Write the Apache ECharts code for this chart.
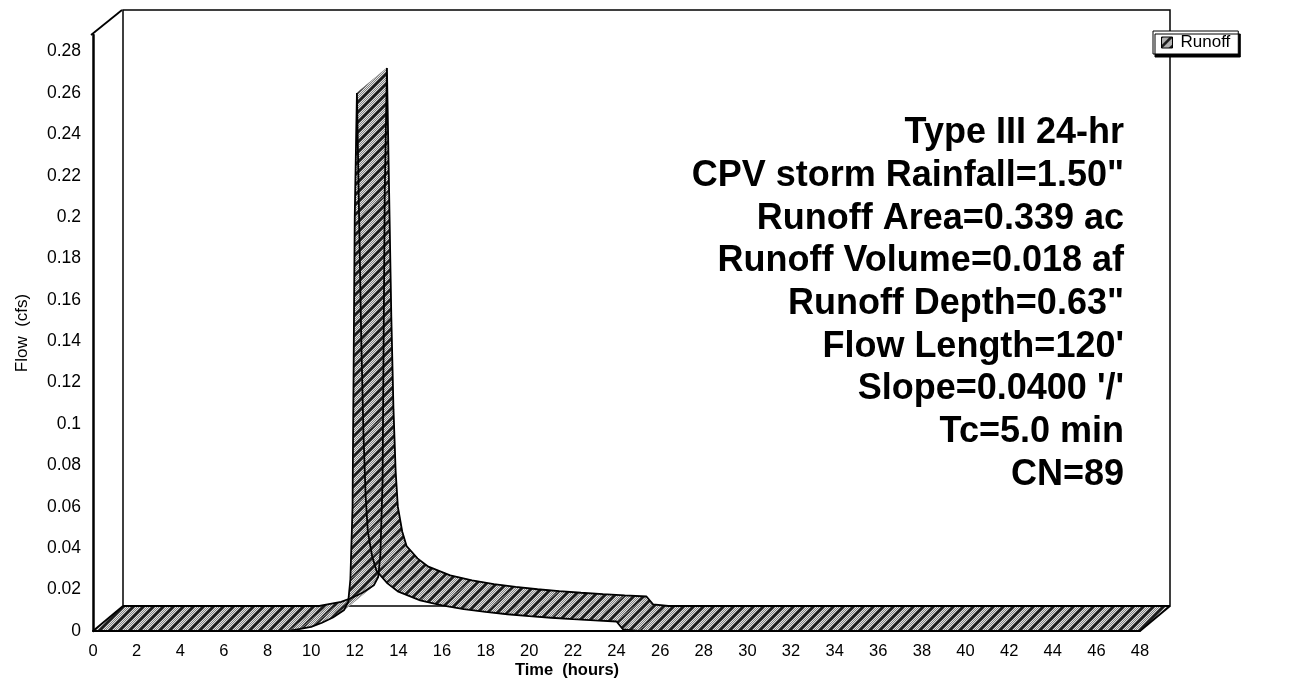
<!DOCTYPE html>
<html><head><meta charset="utf-8">
<script src="https://cdn.jsdelivr.net/npm/echarts@6/dist/echarts.min.js"></script>
<style>html,body{margin:0;padding:0;background:#fff}#c{width:1291px;height:681px}</style>
</head><body><div id="c"></div>
<script>
// ---- data ----
const hours  = [0, 9, 9.5, 10, 10.5, 11, 11.5, 11.7, 11.8, 11.9, 12.0, 12.1, 12.2, 12.3, 12.4, 12.5, 12.6, 12.8, 13.0, 13.5, 14, 15, 16, 17, 18, 19, 20, 21, 22, 23, 24, 24.3, 25, 48];
const runoff = [0, 0, 0.001, 0.002, 0.004, 0.0065, 0.010, 0.014, 0.025, 0.06, 0.20, 0.26, 0.20, 0.14, 0.095, 0.065, 0.048, 0.036, 0.029, 0.023, 0.019, 0.0148, 0.0124, 0.0106, 0.0092, 0.0081, 0.0072, 0.0064, 0.0057, 0.0051, 0.0046, 0.0008, 0, 0];
const xTickLabels = [0,2,4,6,8,10,12,14,16,18,20,22,24,26,28,30,32,34,36,38,40,42,44,46,48];
const yTickLabels = [0,0.02,0.04,0.06,0.08,0.1,0.12,0.14,0.16,0.18,0.2,0.22,0.24,0.26,0.28];
const infoLines = ['Type III 24-hr', 'CPV storm Rainfall=1.50"', 'Runoff Area=0.339 ac', 'Runoff Volume=0.018 af', 'Runoff Depth=0.63"', "Flow Length=120'", "Slope=0.0400 '/'", 'Tc=5.0 min', 'CN=89'];
const seriesName = 'Runoff';
const yMax = 0.288;

// ---- layout ----
const GL = 93, GT = 35, GW = 1047, GH = 596;   // front plane
const DX = 30, DY = -25;                       // depth offset
const FONT = '"Liberation Sans", Arial, sans-serif';

function makeHatch(){
  const n = 10;
  const c = document.createElement('canvas'); c.width = c.height = n;
  const g = c.getContext('2d');
  for (let y = 0; y < n; y++) for (let x = 0; x < n; x++) {
    g.fillStyle = ((x + y) % 2) ? '#808080' : '#e2e2e2';
    g.fillRect(x, y, 1, 1);
  }
  g.strokeStyle = '#1a1a1a'; g.lineWidth = 2.6;
  g.beginPath();
  g.moveTo(-2, n + 2); g.lineTo(n + 2, -2);
  g.moveTo(-2, 2); g.lineTo(2, -2);
  g.moveTo(n - 2, n + 2); g.lineTo(n + 2, n - 2);
  g.stroke();
  return c;
}
const hatch = makeHatch();
const hatchFill = { image: hatch, repeat: 'repeat' };

const segs = hours.slice(0, -1).map((t, i) => [t, runoff[i], hours[i + 1], runoff[i + 1]]);
let peakIdx = 0; runoff.forEach((v, i) => { if (v > runoff[peakIdx]) peakIdx = i; });

const chart = echarts.init(document.getElementById('c'), null, { renderer: 'canvas' });

const axisCommon = {
  type: 'value', splitLine: { show: false }, axisTick: { show: false }
};
const isTick = (arr, v) => arr.some(a => Math.abs(a - v) < 1e-9);

chart.setOption({
  animation: false,
  backgroundColor: '#fff',
  grid: [
    { left: GL, top: GT, width: GW, height: GH, containLabel: false, outerBoundsMode: 'none' },
    { left: GL + DX, top: GT + DY, width: GW, height: GH, containLabel: false, outerBoundsMode: 'none',
      show: true, borderColor: '#000', borderWidth: 1.5, backgroundColor: 'transparent', z: 0 }
  ],
  xAxis: [
    Object.assign({}, axisCommon, {
      gridIndex: 0, min: xTickLabels[0], max: xTickLabels[xTickLabels.length - 1], interval: 2,
      axisLine: { show: true, onZero: false, lineStyle: { color: '#000', width: 2 } },
      axisLabel: { show: true, margin: 12, fontSize: 16.5, color: '#000', fontFamily: FONT,
        formatter: v => isTick(xTickLabels, v) ? String(v) : '' }
    }),
    Object.assign({}, axisCommon, {
      gridIndex: 1, min: xTickLabels[0], max: xTickLabels[xTickLabels.length - 1], interval: 2,
      axisLine: { show: false }, axisLabel: { show: false }
    })
  ],
  yAxis: [
    Object.assign({}, axisCommon, {
      gridIndex: 0, min: 0, max: yMax, interval: 0.02,
      name: 'Flow  (cfs)', nameLocation: 'middle', nameGap: 62, nameRotate: 90,
      nameTextStyle: { fontSize: 17, color: '#000', fontFamily: FONT },
      axisLine: { show: true, onZero: false, lineStyle: { color: '#000', width: 2.5 } },
      axisLabel: { show: true, margin: 12, fontSize: 17.5, color: '#000', fontFamily: FONT, showMaxLabel: false,
        formatter: v => isTick(yTickLabels, v) ? String(+v.toFixed(2)) : '' }
    }),
    Object.assign({}, axisCommon, {
      gridIndex: 1, min: 0, max: yMax, interval: 0.02,
      axisLine: { show: false }, axisLabel: { show: false }
    })
  ],
  legend: {
    left: 1153, top: 31, orient: 'horizontal',
    itemWidth: 11, itemHeight: 11, itemGap: 0,
    padding: [3, 8, 3, 8],
    borderColor: '#000', borderWidth: 1, backgroundColor: '#fff',
    shadowColor: '#000', shadowOffsetX: 2, shadowOffsetY: 3, shadowBlur: 0,
    textStyle: { fontSize: 17, color: '#000', fontFamily: FONT, padding: [0, 0, 0, 3] },
    data: [{ name: seriesName, icon: 'rect', itemStyle: { color: hatchFill, borderColor: '#000', borderWidth: 1 } }]
  },
  graphic: [
    { type: 'line', z: 5, shape: { x1: GL - 2, y1: GT, x2: GL + DX - 1, y2: GT + DY }, style: { stroke: '#000', lineWidth: 1.8 } },
    { type: 'text', z: 10, x: 1124, y: 112,
      style: { text: infoLines.join('\n'), font: 'bold 36px ' + FONT, fill: '#000', textAlign: 'right', textVerticalAlign: 'top', lineHeight: 42.7 } },
    { type: 'text', z: 10, x: 567, y: 670,
      style: { text: 'Time  (hours)', font: 'bold 16.5px ' + FONT, fill: '#000', textAlign: 'center', textVerticalAlign: 'middle' } }
  ],
  series: [
    {
      type: 'custom', name: seriesName, coordinateSystem: 'cartesian2d', xAxisIndex: 0, yAxisIndex: 0,
      z: 2, clip: false,
      encode: { x: [0, 2], y: [1, 3] },
      data: segs,
      renderItem: function (params, api) {
        const a = api.coord([api.value(0), api.value(1)]);
        const b = api.coord([api.value(2), api.value(3)]);
        const children = [{
          type: 'polygon',
          shape: { points: [a, b, [b[0] + DX, b[1] + DY], [a[0] + DX, a[1] + DY]] },
          style: { fill: hatchFill, stroke: '#999', lineWidth: 0.6 }
        }];
        if (params.dataIndex === 0) children.push({ type: 'line', shape: { x1: a[0], y1: a[1], x2: a[0] + DX, y2: a[1] + DY }, style: { stroke: '#000', lineWidth: 1.8 } });
        if (params.dataIndex === segs.length - 1) children.push({ type: 'line', shape: { x1: b[0], y1: b[1], x2: b[0] + DX, y2: b[1] + DY }, style: { stroke: '#000', lineWidth: 1.8 } });
        return { type: 'group', children: children };
      }
    },
    {
      type: 'line', name: 'front edge', xAxisIndex: 0, yAxisIndex: 0, z: 3,
      data: hours.map((t, i) => [t, runoff[i]]), showSymbol: false, symbol: 'none',
      lineStyle: { color: '#000', width: 1.8 }, silent: true
    },
    {
      type: 'line', name: 'back edge', xAxisIndex: 1, yAxisIndex: 1, z: 3,
      data: hours.map((t, i) => [t, runoff[i]]), showSymbol: false, symbol: 'none',
      lineStyle: { color: '#000', width: 1.8 }, silent: true
    },
    {
      type: 'scatter', name: 'peak', xAxisIndex: 0, yAxisIndex: 0, z: 6,
      symbol: 'none', symbolSize: 0,
      data: [[hours[peakIdx], runoff[peakIdx]]],
      label: { show: true, position: 'top', distance: 6, fontSize: 12.5, color: '#000', fontFamily: FONT,
        backgroundColor: '#fff', borderColor: '#000', borderWidth: 1.2, padding: [2, 5, 1, 5],
        formatter: p => p.value[1].toFixed(2) + ' cfs' }
    }
  ]
});
</script></body></html>
